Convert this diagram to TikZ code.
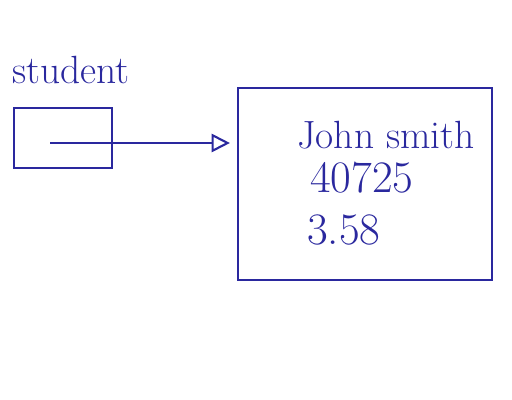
\documentclass[tikz,border=0pt]{standalone}
\usepackage{tikz}
\usetikzlibrary{arrows.meta,positioning}
\definecolor{ink}{HTML}{2A289E}

\begin{document}
\begin{tikzpicture}[x=0.025cm,y=-0.025cm,
    ink line/.style={draw=ink,line width=1.5pt},
    handtext/.style={ink,font=\fontsize{28}{32}\selectfont,inner sep=0pt,anchor=west},
    handnum/.style={handtext,font=\fontsize{32}{36}\selectfont}]
  \useasboundingbox (0,0) rectangle (512,400);
  % Reference variable
  \node[handtext] (name) at (12,70) {student};
  \node[ink line,minimum width=98*0.025cm,minimum height=60*0.025cm,inner sep=0pt] (ref) at (63,138) {};
  \coordinate (ptr) at (50,143);

  % Object
  \node[ink line,minimum width=254*0.025cm,minimum height=192*0.025cm,inner sep=0pt] (obj) at (365,184) {};
  \node[handtext] (fname) at (297,135) {John smith};
  \node[handnum] (fid) at (310,178) {40725};
  \node[handnum] (fgpa) at (307,230) {3.58};

  % Pointer
  \draw[ink line,-{Triangle[open,length=13pt,width=13pt]},shorten >=5pt] (ptr) -- (ptr -| obj.west);
\end{tikzpicture}
\end{document}
